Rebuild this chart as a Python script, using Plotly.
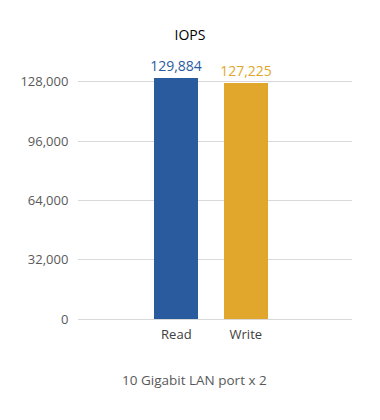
import plotly.graph_objects as go

categories = ["Read", "Write"]
values = [129884, 127225]
bar_colors = ["#2B5B9F", "#E0A72C"]
tick_values = [0, 32000, 64000, 96000, 128000]
tick_labels = ["0", "32,000", "64,000", "96,000", "128,000"]
x_title = "10 Gigabit LAN port x 2"

W, H = 372, 412
L, R, T, B = 64, 28, 59, 101
PW, PH = W - L - R, H - T - B

fig = go.Figure(
    go.Bar(
        x=categories,
        y=values,
        marker=dict(color=bar_colors, line=dict(width=0)),
        width=0.634,
        text=[f"{v:,}" for v in values],
        textposition="outside",
        constraintext="none",
        textfont=dict(color=bar_colors, size=14, family="Open Sans"),
        cliponaxis=False,
    )
)

fig.add_annotation(
    text=x_title,
    xref="paper",
    yref="paper",
    x=(183 - L) / PW,
    y=-(372 - (T + PH)) / PH,
    xanchor="center",
    yanchor="middle",
    showarrow=False,
    font=dict(size=13.5, color="#595959", family="Open Sans"),
)

fig.update_layout(
    width=W,
    height=H,
    margin=dict(l=L, r=R, t=T, b=B),
    paper_bgcolor="white",
    plot_bgcolor="white",
    showlegend=False,
    font=dict(family="Open Sans", color="#595959", size=13),
    title=dict(
        text="IOPS",
        x=182 / W,
        xanchor="center",
        y=1 - 27 / H,
        yanchor="middle",
        font=dict(size=14, color="#000000", family="Open Sans"),
    ),
    xaxis=dict(
        range=[-1.415, 2.528],
        showgrid=False,
        showline=False,
        zeroline=False,
        tickfont=dict(size=13, color="#404040"),
        ticks="outside",
        ticklen=3,
        tickcolor="rgba(0,0,0,0)",
    ),
    yaxis=dict(
        range=[0, 136000],
        tickvals=tick_values,
        ticktext=tick_labels,
        showgrid=True,
        gridcolor="#D9D9D9",
        gridwidth=1,
        zeroline=True,
        zerolinecolor="#D9D9D9",
        zerolinewidth=1,
        showline=False,
        tickfont=dict(size=13, color="#595959"),
        ticks="outside",
        ticklen=6,
        tickcolor="rgba(0,0,0,0)",
    ),
    bargap=0,
)

fig.write_html("out.html")
